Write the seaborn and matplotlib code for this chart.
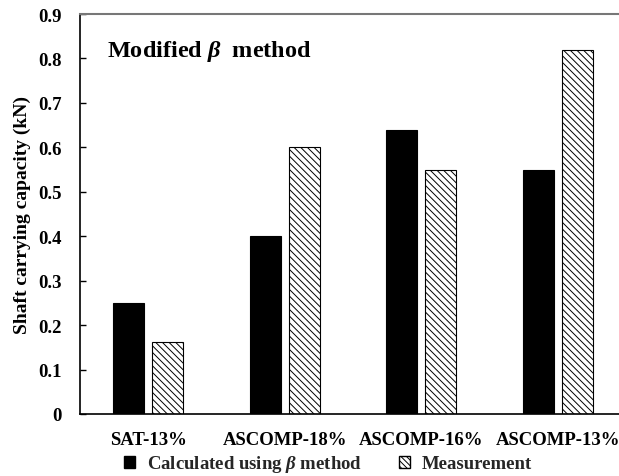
import matplotlib
matplotlib.use("Agg")
import matplotlib.pyplot as plt
from matplotlib.patches import Patch
from matplotlib.ticker import FuncFormatter, MultipleLocator
import pandas as pd
import seaborn as sns

# Shaft carrying capacity per test series (kN)
categories = ["SAT-13%", "ASCOMP-18%", "ASCOMP-16%", "ASCOMP-13%"]
calculated = [0.25, 0.40, 0.64, 0.55]
measured = [0.163, 0.60, 0.55, 0.82]
series_names = [r"Calculated using $\beta$ method", "Measurement"]

sns.set_theme(style="white")
plt.rcParams["font.family"] = ["Liberation Serif", "DejaVu Serif"]
plt.rcParams["font.weight"] = "bold"
plt.rcParams["mathtext.fontset"] = "custom"
plt.rcParams["mathtext.it"] = "Liberation Serif:italic:bold"
plt.rcParams["mathtext.rm"] = "Liberation Serif:bold"
plt.rcParams["hatch.linewidth"] = 0.7
plt.rcParams["hatch.color"] = "black"

df = pd.DataFrame({
    "group": categories * 2,
    "value": calculated + measured,
    "series": [series_names[0]] * len(categories) + [series_names[1]] * len(categories),
})

fig = plt.figure(figsize=(6.19, 4.77), dpi=100)
ax = fig.add_axes([80 / 619, 62 / 477, 546 / 619, 400 / 477])

sns.barplot(
    data=df, x="group", y="value", hue="series",
    order=categories, hue_order=series_names,
    palette=["black", "white"], width=0.572, gap=0.21,
    edgecolor="black", linewidth=0.8, saturation=1,
    errorbar=None, legend=False, ax=ax,
)

# second series drawn as hatched white bars
n = len(categories)
for i, bar in enumerate(ax.patches):
    if i >= n:
        bar.set_hatch("\\\\\\\\\\")
        bar.set_facecolor("white")
        bar.set_edgecolor("black")

ax.set_xlim(-0.5, 3.5)
ax.set_ylim(0, 0.9)
ax.yaxis.set_major_locator(MultipleLocator(0.1))
ax.yaxis.set_major_formatter(FuncFormatter(lambda v, p: "0" if abs(v) < 1e-9 else f"{v:.1f}"))

ax.tick_params(axis="y", direction="in", length=4, width=1, pad=13,
               labelsize=13.5, left=True, colors="black")
ax.tick_params(axis="x", length=0, pad=12, labelsize=13.5, colors="black")
for lab in ax.get_xticklabels() + ax.get_yticklabels():
    lab.set_fontweight("bold")

ax.set_xlabel("")
ax.set_ylabel("Shaft carrying capacity (kN)", fontsize=14, fontweight="bold",
              color="black", labelpad=5)

for side in ["left", "bottom"]:
    ax.spines[side].set_color("black")
    ax.spines[side].set_linewidth(1.2)
ax.spines["top"].set_color("#777777")
ax.spines["top"].set_linewidth(1.5)
ax.spines["right"].set_visible(False)

ax.text(107 / 619, 1 - 51 / 477, r"Modified $\beta$  method", transform=fig.transFigure,
        fontsize=17.5, fontweight="bold", ha="left", va="center", color="black")

handles = [
    Patch(facecolor="black", edgecolor="black", label=series_names[0]),
    Patch(facecolor="white", edgecolor="black", hatch="\\\\\\\\\\\\", label=series_names[1]),
]
fig.legend(handles=handles, loc="center", bbox_to_anchor=(328 / 619, 1 - 465 / 477),
           ncol=2, frameon=False, handlelength=0.6, handleheight=0.6,
           handletextpad=0.6, columnspacing=2.0, borderaxespad=0,
           prop={"weight": "bold", "size": 13.5})

fig.savefig("out.png", dpi=100)
